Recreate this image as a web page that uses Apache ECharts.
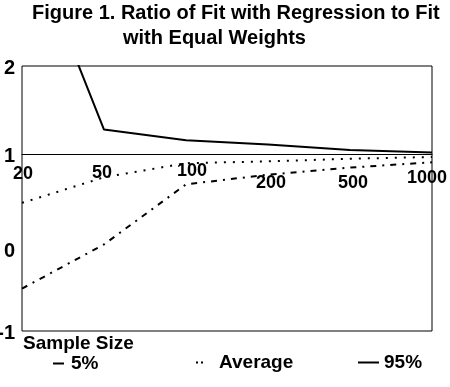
<!DOCTYPE html>
<html><head><meta charset="utf-8">
<script src="https://cdn.jsdelivr.net/npm/echarts@6/dist/echarts.min.js"></script>
<style>html,body{margin:0;padding:0;background:#fff}#c{width:450px;height:387px}</style>
</head><body><div id="c"></div>
<script>
// ---- data ----
const sampleSizes = ['20', '50', '100', '200', '500', '1000'];
const seriesNames = ['5%', 'Average', '95%'];
const p5 = [-0.52, -0.02, 0.66, 0.77, 0.85, 0.91];
const average = [0.45, 0.74, 0.90, 0.92, 0.95, 0.97];
const p95 = [3.62, 1.28, 1.16, 1.11, 1.05, 1.02];
const titleLines = ['Figure 1. Ratio of Fit with Regression to Fit', 'with Equal Weights'];
const xAxisTitle = 'Sample Size';

// ---- styling (label nudges, not data) ----
const xNudgeTop = [7, 6, 4, 16, 16, 11];
const xNudgeX = [1, -2, 6, 3, 3, -5];
const FONT = "'Liberation Sans', Arial, sans-serif";

const rich = {};
xNudgeTop.forEach((t, i) => {
  const dx = xNudgeX[i];
  rich['l' + i] = {
    fontSize: 18, fontWeight: 'bold', fontFamily: FONT, color: '#000',
    padding: [t, dx < 0 ? -2 * dx : 0, 0, dx > 0 ? 2 * dx : 0]
  };
});

const yRich = {
  n: { fontSize: 20, fontWeight: 'bold', fontFamily: FONT, color: '#000', padding: [4, 0, 0, 0] },
  z: { fontSize: 20, fontWeight: 'bold', fontFamily: FONT, color: '#000', padding: [18, 0, 0, 0] }
};

const chart = echarts.init(document.getElementById('c'), null, { renderer: 'canvas' });
const gridTop = 66, gridBottomPx = 331, yMin = -1, yMax = 2;
const axisAt1 = gridTop + (yMax - 1) / (yMax - yMin) * (gridBottomPx - gridTop);

const legendBase = {
  orient: 'horizontal', padding: 0, itemHeight: 14,
  itemStyle: { opacity: 0, color: 'rgba(0,0,0,0)', borderWidth: 0 },
  textStyle: { fontSize: 19, fontWeight: 'bold', fontFamily: FONT, color: '#000' }
};

chart.setOption({
  backgroundColor: '#fff',
  animation: false,
  title: [
    { text: titleLines[0], left: 32, top: 3, padding: 0,
      textStyle: { fontSize: 20, fontWeight: 'bold', fontFamily: FONT, color: '#000' } },
    { text: titleLines[1], left: 123, top: 28, padding: 0,
      textStyle: { fontSize: 20, fontWeight: 'bold', fontFamily: FONT, color: '#000' } },
    { text: xAxisTitle, left: 23, top: 334, padding: 0,
      textStyle: { fontSize: 19, fontWeight: 'bold', fontFamily: FONT, color: '#000' } }
  ],
  legend: [
    Object.assign({}, legendBase, {
      data: [seriesNames[0]], left: 52, top: 354, itemWidth: 11,
      lineStyle: { type: 'solid', width: 2 },
      textStyle: Object.assign({}, legendBase.textStyle, { padding: [8, 0, 0, 2] })
    }),
    Object.assign({}, legendBase, {
      data: [seriesNames[1]], left: 195, top: 353, itemWidth: 18,
      lineStyle: { type: [2, 3, 2, 100], width: 2 },
      textStyle: Object.assign({}, legendBase.textStyle, { padding: [4, 0, 0, 0] })
    }),
    Object.assign({}, legendBase, {
      data: [seriesNames[2]], left: 357, top: 353, itemWidth: 21,
      lineStyle: { type: 'solid', width: 2 },
      textStyle: Object.assign({}, legendBase.textStyle, { padding: [0, 0, 0, 0] })
    })
  ],
  grid: {
    left: 22, right: 18, top: gridTop, bottom: 387 - gridBottomPx,
    show: true, borderColor: '#000', borderWidth: 1, backgroundColor: 'transparent',
    containLabel: false, outerBoundsMode: 'none'
  },
  xAxis: {
    type: 'category', data: sampleSizes, boundaryGap: false,
    offset: axisAt1 - gridBottomPx,
    axisLine: { show: true, onZero: false, lineStyle: { color: '#000', width: 1 } },
    axisTick: { show: false },
    splitLine: { show: false },
    axisLabel: {
      margin: 4, interval: 0, color: '#000', hideOverlap: false,
      formatter: (v, i) => '{l' + i + '|' + v + '}',
      rich: rich
    }
  },
  yAxis: {
    type: 'value', min: yMin, max: yMax, interval: 1,
    axisLine: { show: false }, axisTick: { show: false }, splitLine: { show: false },
    axisLabel: {
      margin: 7, color: '#000',
      formatter: v => (v === 0 ? '{z|' + v + '}' : '{n|' + v + '}'),
      rich: yRich
    }
  },
  series: [
    { name: seriesNames[0], type: 'line', data: p5, symbol: 'none', clip: true,
      lineStyle: { color: '#000', width: 2, type: [6, 6, 2, 6] }, itemStyle: { color: '#000' } },
    { name: seriesNames[1], type: 'line', data: average, symbol: 'none', clip: true,
      lineStyle: { color: '#000', width: 2, type: [2, 7] }, itemStyle: { color: '#000' } },
    { name: seriesNames[2], type: 'line', data: p95, symbol: 'none', clip: true,
      lineStyle: { color: '#000', width: 2, type: 'solid' }, itemStyle: { color: '#000' } }
  ]
});
</script></body></html>
